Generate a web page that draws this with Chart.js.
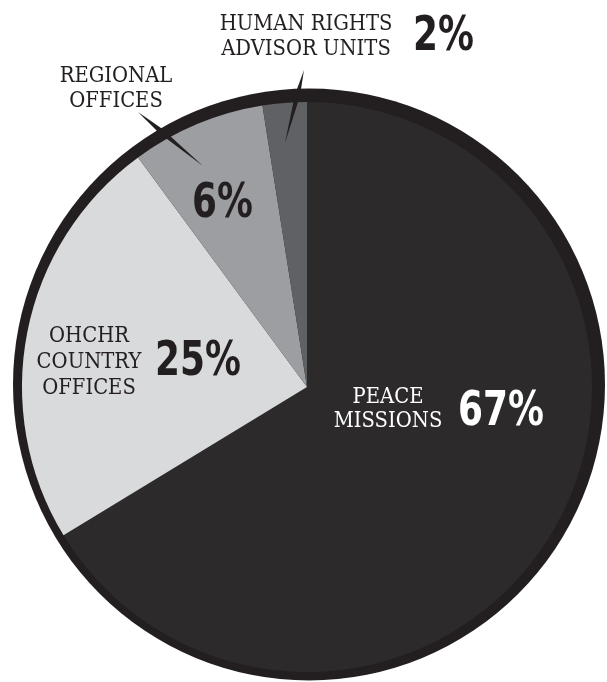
<!DOCTYPE html>
<html>
<head>
<meta charset="utf-8">
<script src="https://cdn.jsdelivr.net/npm/chart.js@4.4.1/dist/chart.umd.min.js"></script>
<style>
  html, body { margin: 0; padding: 0; background: #fff; }
  #wrap { width: 607px; height: 682px; position: relative; }
</style>
</head>
<body>
<div id="wrap"><canvas id="pie"></canvas></div>
<script>
// data
const categories = ['Peace missions', 'OHCHR country offices', 'Regional offices', 'Human rights advisor units'];
const sliceShares = [66.3, 23.6, 7.6, 2.5];          // measured slice sizes (% of circle)
const percentLabels = ['67%', '25%', '6%', '2%'];    // printed figures
const labelLines = [
    ['PEACE', 'MISSIONS'],
    ['OHCHR', 'COUNTRY', 'OFFICES'],
    ['REGIONAL', 'OFFICES'],
    ['HUMAN RIGHTS', 'ADVISOR UNITS']
];

// styles
const sliceColors = ['#2c2a2b', '#d9dadc', '#9d9ea1', '#606164'];
const ringColor = '#231f20';
const textColors = ['#ffffff', '#231f20', '#231f20', '#231f20'];
const serifFont = '22.5px "DejaVu Serif", "Liberation Serif", serif';
const serifSqueeze = 0.87;
const pctFont = 'bold 48px "DejaVu Sans Condensed", "DejaVu Sans", sans-serif';
const pctSqueeze = 0.83;

// label placement, offsets from the pie centre in px
const labelLayout = [
    { x: 81,   baselines: [16, 40],         pctX: 151,  pctY: 38 },
    { x: -218, baselines: [-45, -19, 7],    pctX: -152, pctY: -12 },
    { x: -191, baselines: [-305, -280],     pctX: -115, pctY: -170 },
    { x: -1,   baselines: [-357, -332],     pctX: 106,  pctY: -337 }
];
// tapered leader lines (from label to slice)
const leaders = [
    { from: [-169, -275], to: [-104, -221] },
    { from: [-3, -317],   to: [-22, -244] }
];

function squeezedText(ctx, text, x, y, align, squeeze) {
    ctx.save();
    ctx.translate(x, y);
    ctx.scale(squeeze, 1);
    ctx.textAlign = align;
    ctx.fillText(text, 0, 0);
    ctx.restore();
}

const ringPlugin = {
    id: 'ring',
    beforeDatasetsDraw(chart) {
        const arc = chart.getDatasetMeta(0).data[0];
        const ctx = chart.ctx;
        ctx.save();
        ctx.fillStyle = ringColor;
        ctx.beginPath();
        ctx.arc(arc.x + 2, arc.y - 2.5, arc.outerRadius + 11, 0, Math.PI * 2);
        ctx.fill();
        ctx.restore();
    }
};

const labelPlugin = {
    id: 'sliceLabels',
    afterDatasetsDraw(chart) {
        const arc = chart.getDatasetMeta(0).data[0];
        const cx = arc.x, cy = arc.y;
        const ctx = chart.ctx;
        ctx.save();

        // leader lines
        ctx.fillStyle = ringColor;
        leaders.forEach(l => {
            const x0 = cx + l.from[0], y0 = cy + l.from[1];
            const x1 = cx + l.to[0], y1 = cy + l.to[1];
            const len = Math.hypot(x1 - x0, y1 - y0);
            const nx = -(y1 - y0) / len, ny = (x1 - x0) / len;
            const mx = x0 + (x1 - x0) * 0.35, my = y0 + (y1 - y0) * 0.35;
            const w = 2.6;
            ctx.beginPath();
            ctx.moveTo(x0, y0);
            ctx.lineTo(mx + nx * w, my + ny * w);
            ctx.lineTo(x1, y1);
            ctx.lineTo(mx - nx * w, my - ny * w);
            ctx.closePath();
            ctx.fill();
        });

        ctx.textBaseline = 'alphabetic';
        labelLayout.forEach((p, i) => {
            ctx.fillStyle = textColors[i];
            ctx.font = serifFont;
            labelLines[i].forEach((line, j) => {
                squeezedText(ctx, line, cx + p.x, cy + p.baselines[j], 'center', serifSqueeze);
            });
            ctx.font = pctFont;
            squeezedText(ctx, percentLabels[i], cx + p.pctX, cy + p.pctY, 'left', pctSqueeze);
        });
        ctx.restore();
    }
};

new Chart(document.getElementById('pie'), {
    type: 'pie',
    data: {
        labels: categories,
        datasets: [{
            data: sliceShares,
            backgroundColor: sliceColors,
            borderWidth: 0
        }]
    },
    options: {
        responsive: true,
        maintainAspectRatio: false,
        animation: false,
        layout: { padding: { left: 22, right: 15, top: 102, bottom: 10 } },
        plugins: {
            legend: { display: false },
            tooltip: { enabled: false }
        }
    },
    plugins: [ringPlugin, labelPlugin]
});
</script>
</body>
</html>
